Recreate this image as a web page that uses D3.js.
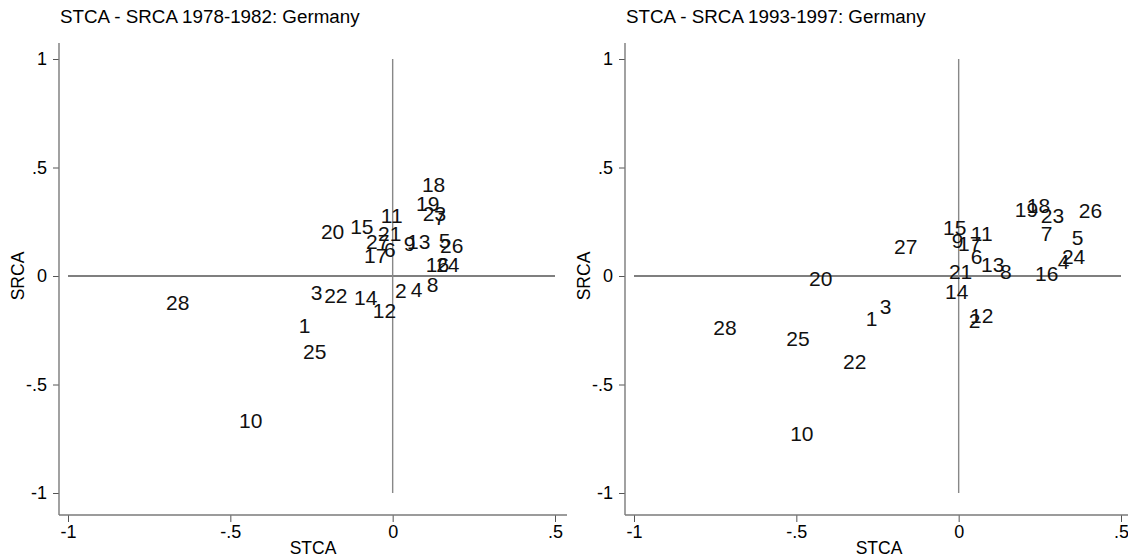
<!DOCTYPE html>
<html>
<head>
<meta charset="utf-8">
<script src="https://cdn.jsdelivr.net/npm/d3@7"></script>
<style>
  html, body { margin: 0; padding: 0; background: #fff; }
  svg { display: block; font-family: "Liberation Sans", Arial, Helvetica, sans-serif; }
</style>
</head>
<body>
<svg id="chart" width="1128" height="557"></svg>
<script>
// Industry codes used as point labels
const industries = d3.range(1, 29);

// Period 1978-1982
const stca7882 = [-0.271, 0.025, -0.234, 0.074, 0.160, -0.009, 0.145, 0.123, 0.052, -0.437,
                  -0.003, -0.025, 0.080, -0.083, -0.095, 0.138, -0.052, 0.126, 0.108, -0.185,
                  -0.009, -0.175, 0.129, 0.170, -0.240, 0.182, -0.046, -0.662];
const srca7882 = [-0.230, -0.065, -0.074, -0.060, 0.166, 0.124, 0.272, -0.041, 0.152, -0.664,
                  0.281, -0.157, 0.161, -0.101, 0.230, 0.055, 0.097, 0.424, 0.336, 0.207,
                  0.194, -0.088, 0.290, 0.055, -0.346, 0.143, 0.157, -0.120];

// Period 1993-1997
const stca9397 = [-0.268, 0.049, -0.225, 0.323, 0.366, 0.055, 0.271, 0.145, -0.003, -0.483,
                  0.071, 0.071, 0.105, -0.006, -0.012, 0.271, 0.034, 0.246, 0.209, -0.425,
                  0.006, -0.320, 0.289, 0.354, -0.495, 0.406, -0.163, -0.720];
const srca9397 = [-0.194, -0.203, -0.138, 0.065, 0.180, 0.092, 0.194, 0.023, 0.166, -0.724,
                  0.198, -0.184, 0.055, -0.069, 0.226, 0.014, 0.152, 0.323, 0.309, -0.009,
                  0.023, -0.392, 0.281, 0.088, -0.290, 0.300, 0.138, -0.235];

const panelTitles = ["STCA - SRCA 1978-1982: Germany", "STCA - SRCA 1993-1997: Germany"];
const xTicks = [-1, -0.5, 0, 0.5];
const yTicks = [-1, -0.5, 0, 0.5, 1];
const xTitle = "STCA";
const yTitle = "SRCA";

const fmt = v => v === 0 ? "0" : (Math.abs(v) === 1 ? String(v) : String(v).replace("0.", "."));

const svg = d3.select("#chart");

function drawPanel(offset, title, xs, ys) {
  const g = svg.append("g").attr("transform", `translate(${offset},0)`);

  const x = d3.scaleLinear().domain([-1, 0.5]).range([68, 555]);
  const y = d3.scaleLinear().domain([-1, 1]).range([493, 59]);

  const axisColor = "#7a7a7a";
  const left = 59, bottom = 515, top = 43, right = 567;

  // title
  g.append("text")
    .attr("x", 60).attr("y", 23)
    .attr("font-size", 18.8).attr("fill", "#000")
    .text(title);

  // reference lines at zero
  g.append("line")
    .attr("x1", x(-1)).attr("x2", x(0.5))
    .attr("y1", y(0)).attr("y2", y(0))
    .attr("stroke", "#000").attr("stroke-width", 1.2);
  g.append("line")
    .attr("x1", x(0)).attr("x2", x(0))
    .attr("y1", y(1)).attr("y2", y(-1))
    .attr("stroke", "#888").attr("stroke-width", 1.4);

  // y axis
  const yAxis = d3.axisLeft(y).tickValues(yTicks).tickFormat(fmt).tickSize(6).tickPadding(6);
  const ga = g.append("g").attr("transform", `translate(${left},0)`).call(yAxis);
  ga.select(".domain").remove();
  ga.selectAll(".tick line").attr("stroke", "#555");
  ga.selectAll(".tick text").attr("font-size", 18).attr("fill", "#000")
    .attr("font-family", "Liberation Sans, Arial, sans-serif");
  g.append("line").attr("x1", left).attr("x2", left).attr("y1", top).attr("y2", bottom)
    .attr("stroke", axisColor).attr("stroke-width", 1.4);

  // x axis
  const xAxis = d3.axisBottom(x).tickValues(xTicks).tickFormat(fmt).tickSize(7).tickPadding(3);
  const gb = g.append("g").attr("transform", `translate(0,${bottom})`).call(xAxis);
  gb.select(".domain").remove();
  gb.selectAll(".tick line").attr("stroke", "#555");
  gb.selectAll(".tick text").attr("font-size", 18).attr("fill", "#000")
    .attr("font-family", "Liberation Sans, Arial, sans-serif");
  g.append("line").attr("x1", left).attr("x2", right).attr("y1", bottom).attr("y2", bottom)
    .attr("stroke", axisColor).attr("stroke-width", 1.4);

  // axis titles
  g.append("text")
    .attr("x", (left + right) / 2).attr("y", 554)
    .attr("text-anchor", "middle").attr("font-size", 17.5).attr("fill", "#000")
    .text(xTitle);
  g.append("text")
    .attr("transform", `translate(24,${y(0)}) rotate(-90)`)
    .attr("text-anchor", "middle").attr("font-size", 17.5).attr("fill", "#000")
    .text(yTitle);

  // point labels centred on each (STCA, SRCA) position
  g.append("g").selectAll("text")
    .data(industries.map((id, i) => ({ id, sx: xs[i], sy: ys[i] })))
    .join("text")
    .attr("x", d => x(d.sx))
    .attr("y", d => y(d.sy))
    .attr("dy", "0.36em")
    .attr("text-anchor", "middle")
    .attr("font-size", 21)
    .attr("fill", "#111")
    .text(d => d.id);
}

drawPanel(0, panelTitles[0], stca7882, srca7882);
drawPanel(566, panelTitles[1], stca9397, srca9397);
</script>
</body>
</html>
